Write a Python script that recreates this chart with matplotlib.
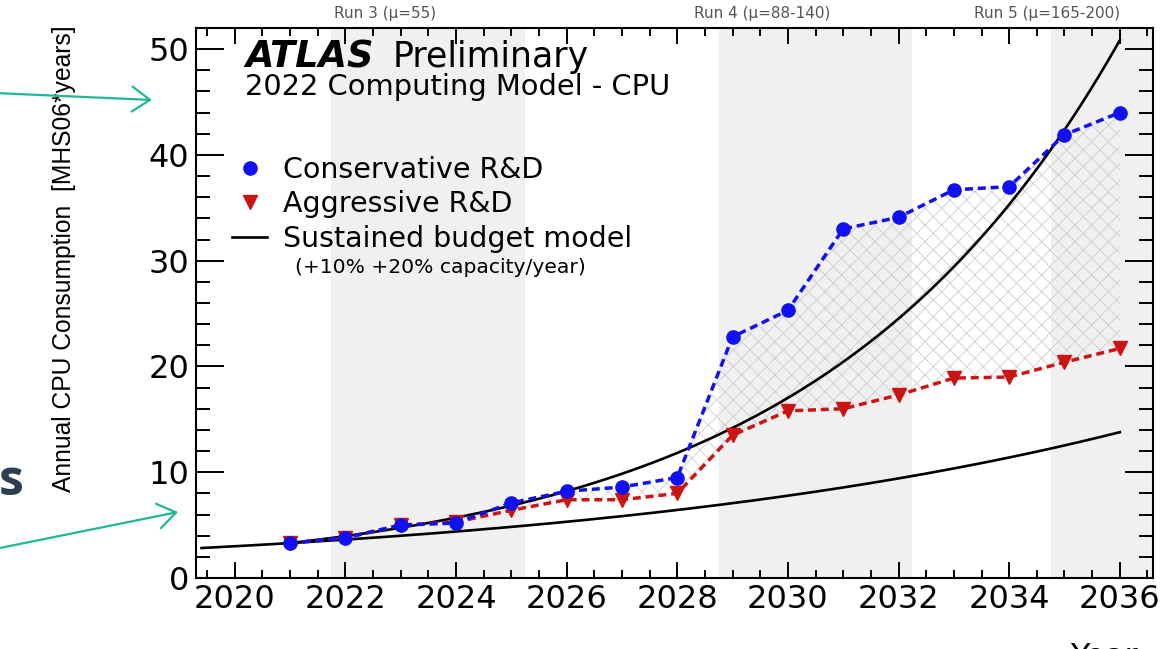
import numpy as np
import matplotlib
matplotlib.use('Agg')
from matplotlib import pyplot as plt
from matplotlib.lines import Line2D
from matplotlib.patches import FancyArrowPatch
from matplotlib.ticker import MultipleLocator

# CPU needs per year for the two R&D scenarios
years = [2021, 2022, 2023, 2024, 2025, 2026, 2027, 2028,
         2029, 2030, 2031, 2032, 2033, 2034, 2035, 2036]
conservative = [3.3, 3.8, 5.0, 5.2, 7.1, 8.2, 8.6, 9.5,
                22.8, 25.3, 33.0, 34.1, 36.7, 37.0, 41.9, 44.0]
aggressive = [3.3, 3.8, 5.0, 5.3, 6.4, 7.4, 7.4, 8.0,
              13.5, 15.8, 16.0, 17.3, 18.9, 19.0, 20.4, 21.7]

# flat budget: capacity grows by a fixed fraction each year from the 2021 value
budget_growth = [0.10, 0.20]
budget_first_year = [2019.4, 2021.0]
budget_last_year = 2036
budget_start_year = 2021
budget_start_value = 3.3

# LHC run periods (shaded) and their labels
runs = [(2021.75, 2025.25), (2028.75, 2032.25), (2034.75, 2036.6)]
run_labels = ['Run 3 (\u03bc=55)', 'Run 4 (\u03bc=88-140)', 'Run 5 (\u03bc=165-200)']
run_label_x = [2022.72, 2029.54, 2034.68]

plt.rcParams['hatch.linewidth'] = 0.6

fig = plt.figure(figsize=(11.63, 6.49), dpi=100)
ax = fig.add_axes([0.1685, 0.1094, 0.8229, 0.8475])

for (x0, x1) in runs:
    ax.axvspan(x0, x1, color='#f0f0f0', lw=0, zorder=0)
for lab, xl in zip(run_labels, run_label_x):
    ax.text(xl, 1.0255, lab, transform=ax.get_xaxis_transform(),
            ha='center', va='center', fontsize=11, color='#555555')

# band between the two scenarios
ax.fill_between(years, conservative, aggressive, facecolor='none',
                hatch='xx', edgecolor='#cdcdcd', lw=0, zorder=1)

for g, t0 in zip(budget_growth, budget_first_year):
    t = np.linspace(t0, budget_last_year, 200)
    ax.plot(t, budget_start_value * (1 + g) ** (t - budget_start_year),
            color='black', lw=1.9, zorder=2)

ax.plot(years, conservative, color='#1010f0', ls=(0, (2.3, 1.4)), lw=2.5,
        marker='o', ms=9.5, mec='#1010f0', mfc='#1010f0', zorder=4)
ax.plot(years, aggressive, color='#cc1414', ls=(0, (2.3, 1.4)), lw=2.5,
        marker='v', ms=10, mec='#cc1414', mfc='#cc1414', zorder=3)

ax.set_xlim(2019.3, 2036.6)
ax.set_ylim(0, 52)
ax.xaxis.set_major_locator(MultipleLocator(2))
ax.xaxis.set_minor_locator(MultipleLocator(0.5))
ax.yaxis.set_major_locator(MultipleLocator(10))
ax.yaxis.set_minor_locator(MultipleLocator(2))
ax.tick_params(axis='both', which='both', direction='in', top=True, right=True,
               width=1.4, labelsize=23)
ax.tick_params(axis='x', which='major', length=11.5, pad=4.5)
ax.tick_params(axis='x', which='minor', length=6)
ax.tick_params(axis='y', which='major', length=20, pad=5)
ax.tick_params(axis='y', which='minor', length=10)
for s in ax.spines.values():
    s.set_linewidth(1.5)

ax.set_ylabel('Annual CPU Consumption  [MHS06*years]', loc='top', fontsize=17.7,
              family=['Liberation Sans', 'DejaVu Sans'])
ax.yaxis.set_label_coords(-0.125, 1.005)
ax.set_xlabel('Year', loc='right', fontsize=23)
ax.xaxis.set_label_coords(0.984, -0.116)

ax.text(0.0512, 0.929, 'ATLAS', transform=ax.transAxes, fontsize=26.5,
        fontweight='bold', style='italic', va='baseline')
ax.text(0.2058, 0.929, 'Preliminary', transform=ax.transAxes, fontsize=25,
        va='baseline')
ax.text(0.0512, 0.878, '2022 Computing Model - CPU', transform=ax.transAxes,
        fontsize=20.8, va='baseline')

handles = [Line2D([], [], ls='none', marker='o', ms=9.5, color='#1010f0'),
           Line2D([], [], ls='none', marker='v', ms=10, color='#cc1414'),
           Line2D([], [], color='black', lw=1.9)]
ax.legend(handles, ['Conservative R&D', 'Aggressive R&D', 'Sustained budget model'],
          loc='upper left', bbox_to_anchor=(0.0375, 0.768), frameon=False,
          fontsize=20.5, handlelength=1.25, handletextpad=0.55, labelspacing=0.23,
          borderpad=0, borderaxespad=0)
ax.text(0.1035, 0.565, '(+10% +20% capacity/year)', transform=ax.transAxes,
        fontsize=14.6, va='center')

# slide overlay: pointers onto the axis and a bit of the heading
arrow = dict(arrowstyle='->,head_length=0.65,head_width=0.45', color='#20b897',
             lw=1.6, mutation_scale=20, shrinkA=0, shrinkB=0)
for start, end in [((-5, 93), (152, 100)), ((-5, 549), (178, 512))]:
    fig.add_artist(FancyArrowPatch(
        (start[0] / 1163, 1 - start[1] / 649), (end[0] / 1163, 1 - end[1] / 649),
        transform=fig.transFigure, **arrow))
fig.text(24 / 1163, 1 - 495 / 649, 's', ha='right', va='baseline', fontsize=36,
         fontweight='bold', color='#2d3e50', family=['Open Sans', 'DejaVu Sans'])

fig.savefig('out.png', dpi=100)
